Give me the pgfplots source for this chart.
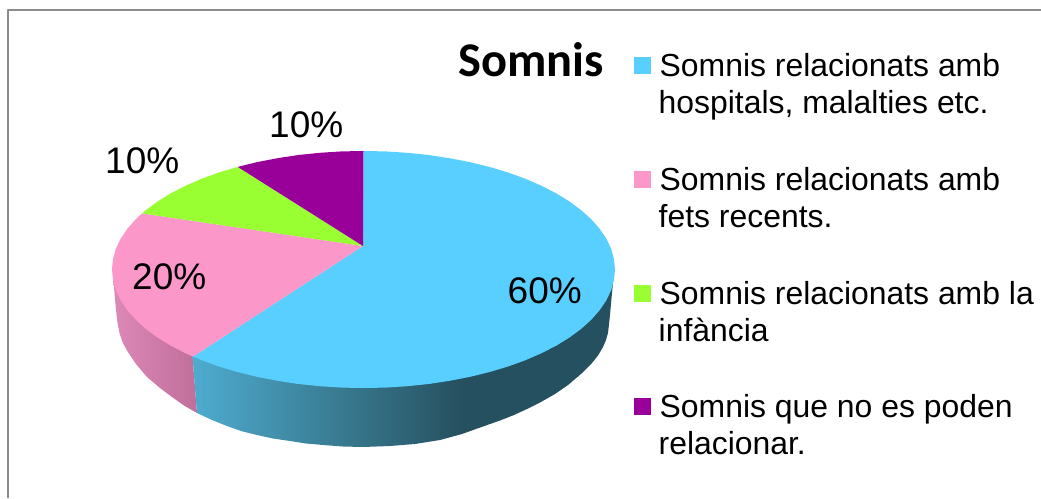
\documentclass[border=0pt]{standalone}
\usepackage{pgfplots}
\pgfplotsset{compat=1.18}
\usepackage{fontspec}
\setmainfont{Liberation Sans}
\newfontfamily\titlefont{Carlito}
\definecolor{cblue}{HTML}{59CFFF}
\definecolor{cpink}{HTML}{FC97C9}
\definecolor{cgreen}{HTML}{99FF33}
\definecolor{cpurple}{HTML}{990099}
\definecolor{framec}{HTML}{8C8C8C}
\definecolor{bs1}{HTML}{4EACD0}
\definecolor{bs2}{HTML}{38798F}
\definecolor{bs3}{HTML}{25505F}
\definecolor{ps1}{HTML}{DC89B8}
\definecolor{ps2}{HTML}{C06E9A}
\pgfdeclarehorizontalshading{blueside}{100bp}{color(0bp)=(bs1); color(25bp)=(bs1); color(43bp)=(bs2); color(57bp)=(bs3); color(100bp)=(bs3)}
\pgfdeclarehorizontalshading{pinkside}{100bp}{color(0bp)=(ps1); color(25bp)=(ps1); color(75bp)=(ps2); color(100bp)=(ps2)}
\tikzset{
  lab/.style={font=\fontsize{37}{37}\selectfont, anchor=base west, inner sep=0pt, text=black},
  leg/.style={font=\fontsize{31.9}{37}\selectfont, anchor=base west, inner sep=0pt, text=black},
}
\begin{document}
\begin{tikzpicture}
\begin{axis}[
  width=1041pt, height=498pt, scale only axis,
  xmin=0, xmax=1041, ymin=0, ymax=498, y dir=reverse,
  hide axis, clip=true,
  every axis plot/.append style={draw=none, forget plot, line join=round},
]
% page background
\addplot[fill=white] coordinates {(0,0) (1041,0) (1041,498) (0,498)} --cycle;
% frame
\addplot[draw=framec, line width=2pt] coordinates {(8,498) (8,10) (1041,10)};
% side, 20% slice
\addplot[shading=pinkside] coordinates {
 (113,280) (114,287) (115,299) (116,310) (117.5,323) (119.5,333) (122.5,342) (127,350.5) (136,364) (147,377) (160,388) (172,397) (184,405.5) (197,413)
 (192.5,356) (150,300)} --cycle;
% side, 60% slice
\addplot[shading=blueside] coordinates {
 (192.5,356) (197,413) (212,420) (227,426) (241,431) (257,435) (273,438.5) (290,441) (306,443.5) (323,445) (343,446.5) (363,447) (390,446)
 (415,444) (440,440) (462,434) (483,426.5) (500,420.5) (514,415) (527,409) (540,402.5) (555,394) (568,385) (581,374) (592,363) (598,355.5) (603,347)
 (606,340) (608,333) (609,324) (610,315) (611.5,298) (613,283) (550,300) (400,340)} --cycle;
% top, 60%
\addplot[fill=cblue] coordinates {
 (363,246) (363.5,151.0) (385.4,151.4) (407.2,152.8) (428.6,155.0) (449.5,158.2) (469.8,162.1) (489.3,166.9) (507.8,172.4)
 (525.2,178.7) (541.3,185.7) (556.2,193.3) (569.5,201.5) (581.3,210.3) (591.4,219.4) (599.8,229.0) (606.4,238.8) (611.2,248.9)
 (614.0,259.2) (615.0,269.5) (614.0,279.8) (611.2,290.1) (606.4,300.2) (599.8,310.0) (591.4,319.6) (581.3,328.8) (569.5,337.5)
 (556.2,345.7) (541.3,353.3) (525.2,360.3) (507.8,366.6) (489.3,372.1) (469.8,376.9) (449.5,380.8) (428.6,384.0) (407.2,386.2)
 (385.4,387.6) (363.5,388.0) (341.6,387.6) (319.8,386.2) (298.4,384.0) (277.5,380.8) (257.2,376.9) (237.7,372.1) (219.2,366.6)
 (201.8,360.3) (193,356.6)} --cycle;
% top, 20%
\addplot[fill=cpink] coordinates {
 (363,246) (193,356.6) (185.7,353.3) (170.8,345.7) (157.5,337.5) (145.7,328.8) (135.6,319.6) (127.2,310.0) (120.6,300.2)
 (115.8,290.1) (113.0,279.8) (112.0,269.5) (113.0,259.2) (115.8,248.9) (120.6,238.8) (127.2,229.0) (135.6,219.4) (142,213.4)} --cycle;
% top, 10% green
\addplot[fill=cgreen] coordinates {
 (363,246) (142,213.4) (145.7,210.3) (157.5,201.5) (170.8,193.3) (185.7,185.7) (201.8,178.7) (219.2,172.4) (237.7,166.9)} --cycle;
% top, 10% purple
\addplot[fill=cpurple] coordinates {
 (363,246) (237.7,166.9) (257.2,162.1) (277.5,158.2) (298.4,155.0) (319.8,152.8) (341.6,151.4) (363.5,151.0)} --cycle;
% legend swatches
\addplot[fill=cblue] coordinates {(634,57) (651,57) (651,74) (634,74)} --cycle;
\addplot[fill=cpink] coordinates {(634,171) (651,171) (651,188) (634,188)} --cycle;
\addplot[fill=cgreen] coordinates {(634,285) (651,285) (651,302) (634,302)} --cycle;
\addplot[fill=cpurple] coordinates {(634,398) (651,398) (651,415) (634,415)} --cycle;
% percent labels
\node[lab] at (axis cs:269,137) {10\%};
\node[lab] at (axis cs:105,173) {10\%};
\node[lab] at (axis cs:132,289) {20\%};
\node[lab] at (axis cs:507.5,303) {60\%};
% title
\node[anchor=base west, inner sep=0pt, font=\titlefont\bfseries\fontsize{48.4}{48}\selectfont] at (axis cs:458,76) {Somnis};
% legend text
\node[leg] at (axis cs:659.5,76) {Somnis relacionats amb};
\node[leg] at (axis cs:658.5,113) {hospitals, malalties etc.};
\node[leg] at (axis cs:659.5,190) {Somnis relacionats amb};
\node[leg] at (axis cs:658.5,227) {fets recents.};
\node[leg] at (axis cs:659.5,304) {Somnis relacionats amb la};
\node[leg] at (axis cs:658.5,341) {infància};
\node[leg] at (axis cs:659.5,417) {Somnis que no es poden};
\node[leg] at (axis cs:658.5,454) {relacionar.};
\end{axis}
\end{tikzpicture}
\end{document}
